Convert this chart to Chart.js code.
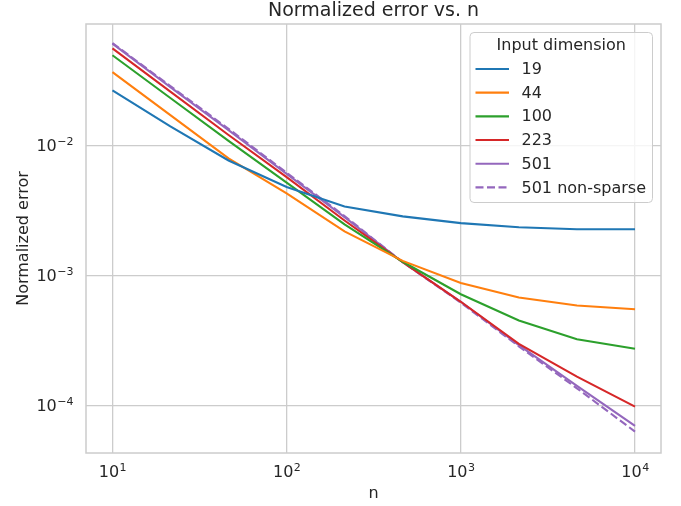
<!DOCTYPE html>
<html>
<head>
<meta charset="utf-8">
<script src="https://cdn.jsdelivr.net/npm/chart.js@4"></script>
<style>
    body { margin: 0; background: #fff; }
    canvas { display: block; }
</style>
</head>
<body>
<canvas id="errorChart" width="681" height="506"></canvas>
<script>
// Sample sizes and normalized error
const nValues = [10, 21.5, 46.4, 100, 215, 464, 1000, 2154, 4642, 10000];
const err19 = [0.0267, 0.0141, 0.0077, 0.00481, 0.00341, 0.00286, 0.00254, 0.00236, 0.00228, 0.00228];
const err44 = [0.0369, 0.0172, 0.0080, 0.0043, 0.00219, 0.00130, 0.00088, 0.00068, 0.00059, 0.000552];
const err100 = [0.0497, 0.0233, 0.0109, 0.0052, 0.00248, 0.00128, 0.00072, 0.000452, 0.000324, 0.000274];
const err223 = [0.0561, 0.0261, 0.0121, 0.00574, 0.00266, 0.00127, 0.00063, 0.000299, 0.000167, 0.0000982];
const err501 = [0.0611, 0.0283, 0.0132, 0.00608, 0.00282, 0.00127, 0.00063, 0.000292, 0.000142, 0.0000698];
const err501Dense = [0.0617, 0.0288, 0.0135, 0.0062, 0.00288, 0.00127, 0.00062, 0.000286, 0.000136, 0.0000631];

const seriesLabels = ['19', '44', '100', '223', '501', '501 non-sparse'];
const seriesColors = ['#1f77b4', '#ff7f0e', '#2ca02c', '#d62728', '#9467bd', '#9467bd'];

// tick labels written as base^exponent, drawn mathtext style
const xTickValues = [10, 100, 1000, 10000];
const xTickLabels = ['10^1', '10^2', '10^3', '10^4'];
const yTickValues = [1e-4, 1e-3, 1e-2];
const yTickLabels = ['10^−4', '10^−3', '10^−2'];

const xRange = [7.05, 14100];
const yRange = [4.32e-5, 0.0865];

const TEXT = '#262626';
const GRID = '#cccccc';
const FONT = "'DejaVu Sans', sans-serif";

Chart.defaults.font.family = FONT;
Chart.defaults.color = TEXT;

function toPoints(values) {
    return nValues.map((n, i) => ({ x: n, y: values[i] }));
}

const allSeries = [err19, err44, err100, err223, err501, err501Dense];
const datasets = allSeries.map((values, i) => ({
    label: seriesLabels[i],
    data: toPoints(values),
    borderColor: seriesColors[i],
    borderWidth: 2.1,
    borderDash: i === 5 ? [8, 3.5] : [],
    pointRadius: 0,
    tension: 0,
    fill: false
}));

// Box around the plotting area (all four spines)
const framePlugin = {
    id: 'frame',
    afterDatasetsDraw(chart) {
        const { ctx, chartArea: a } = chart;
        ctx.save();
        ctx.strokeStyle = GRID;
        ctx.lineWidth = 1.5;
        ctx.strokeRect(a.left, a.top, a.right - a.left, a.bottom - a.top);
        ctx.restore();
    }
};

// Draws "10" with a raised, smaller exponent; returns nothing
function drawPower(ctx, label, x, baseline, align) {
    const [base, exp] = label.split('^');
    ctx.font = `16px ${FONT}`;
    const wb = ctx.measureText(base).width;
    ctx.font = `11px ${FONT}`;
    const we = ctx.measureText(exp).width;
    let left = x;
    if (align === 'center') left = x - (wb + we) / 2;
    if (align === 'right') left = x - wb - we;
    ctx.textAlign = 'left';
    ctx.font = `16px ${FONT}`;
    ctx.fillText(base, left, baseline);
    ctx.font = `11px ${FONT}`;
    ctx.fillText(exp, left + wb + 0.5, baseline - 6);
}

const tickLabelPlugin = {
    id: 'tickLabels',
    afterDraw(chart) {
        const { ctx, scales, chartArea: a } = chart;
        ctx.save();
        ctx.fillStyle = TEXT;
        ctx.textBaseline = 'alphabetic';
        xTickValues.forEach((v, i) => {
            drawPower(ctx, xTickLabels[i], scales.x.getPixelForValue(v), a.bottom + 24, 'center');
        });
        yTickValues.forEach((v, i) => {
            drawPower(ctx, yTickLabels[i], a.left - 13, scales.y.getPixelForValue(v) + 5.7, 'right');
        });
        ctx.restore();
    }
};

// Title and axis labels
const textPlugin = {
    id: 'texts',
    afterDraw(chart) {
        const { ctx, chartArea: a } = chart;
        const cx = (a.left + a.right) / 2;
        const cy = (a.top + a.bottom) / 2;
        ctx.save();
        ctx.fillStyle = TEXT;
        ctx.textAlign = 'center';
        ctx.textBaseline = 'alphabetic';
        ctx.font = `19px ${FONT}`;
        ctx.fillText('Normalized error vs. n', cx, 16);
        ctx.font = `16px ${FONT}`;
        ctx.fillText('n', cx, 498);
        ctx.translate(28, cy);
        ctx.rotate(-Math.PI / 2);
        ctx.fillText('Normalized error', 0, 0);
        ctx.restore();
    }
};

// Legend in the upper right, matplotlib style
const legendPlugin = {
    id: 'boxLegend',
    afterDraw(chart) {
        const ctx = chart.ctx;
        const box = { x: 470, y: 32.5, w: 182.5, h: 170 };
        ctx.save();
        ctx.beginPath();
        ctx.roundRect(box.x, box.y, box.w, box.h, 4);
        ctx.fillStyle = 'rgba(255,255,255,0.8)';
        ctx.fill();
        ctx.strokeStyle = GRID;
        ctx.lineWidth = 1;
        ctx.stroke();

        ctx.fillStyle = TEXT;
        ctx.font = `16px ${FONT}`;
        ctx.textAlign = 'center';
        ctx.textBaseline = 'middle';
        ctx.fillText('Input dimension', box.x + box.w / 2, 46);

        ctx.textAlign = 'left';
        chart.data.datasets.forEach((ds, i) => {
            const y = 69 + i * 23.67;
            ctx.beginPath();
            ctx.setLineDash(ds.borderDash || []);
            ctx.strokeStyle = ds.borderColor;
            ctx.lineWidth = ds.borderWidth;
            ctx.moveTo(475.5, y);
            ctx.lineTo(509, y);
            ctx.stroke();
            ctx.setLineDash([]);
            ctx.fillStyle = TEXT;
            ctx.fillText(ds.label, 521.5, y + 1);
        });
        ctx.restore();
    }
};

const chart = new Chart(document.getElementById('errorChart'), {
    type: 'line',
    data: { datasets },
    options: {
        responsive: false,
        animation: false,
        layout: { padding: { top: 24, right: 20, left: 0, bottom: 0 } },
        plugins: {
            legend: { display: false },
            title: { display: false },
            tooltip: { enabled: false }
        },
        scales: {
            x: {
                type: 'logarithmic',
                min: xRange[0],
                max: xRange[1],
                afterBuildTicks: s => { s.ticks = xTickValues.map(v => ({ value: v })); },
                afterFit: s => { s.height = 53; },
                ticks: { display: false },
                grid: { color: GRID, lineWidth: 1.3, drawTicks: false },
                border: { display: false }
            },
            y: {
                type: 'logarithmic',
                min: yRange[0],
                max: yRange[1],
                afterBuildTicks: s => { s.ticks = yTickValues.map(v => ({ value: v })); },
                afterFit: s => { s.width = 86; },
                ticks: { display: false },
                grid: { color: GRID, lineWidth: 1.3, drawTicks: false },
                border: { display: false }
            }
        }
    },
    plugins: [framePlugin, tickLabelPlugin, textPlugin, legendPlugin]
});
</script>
</body>
</html>
